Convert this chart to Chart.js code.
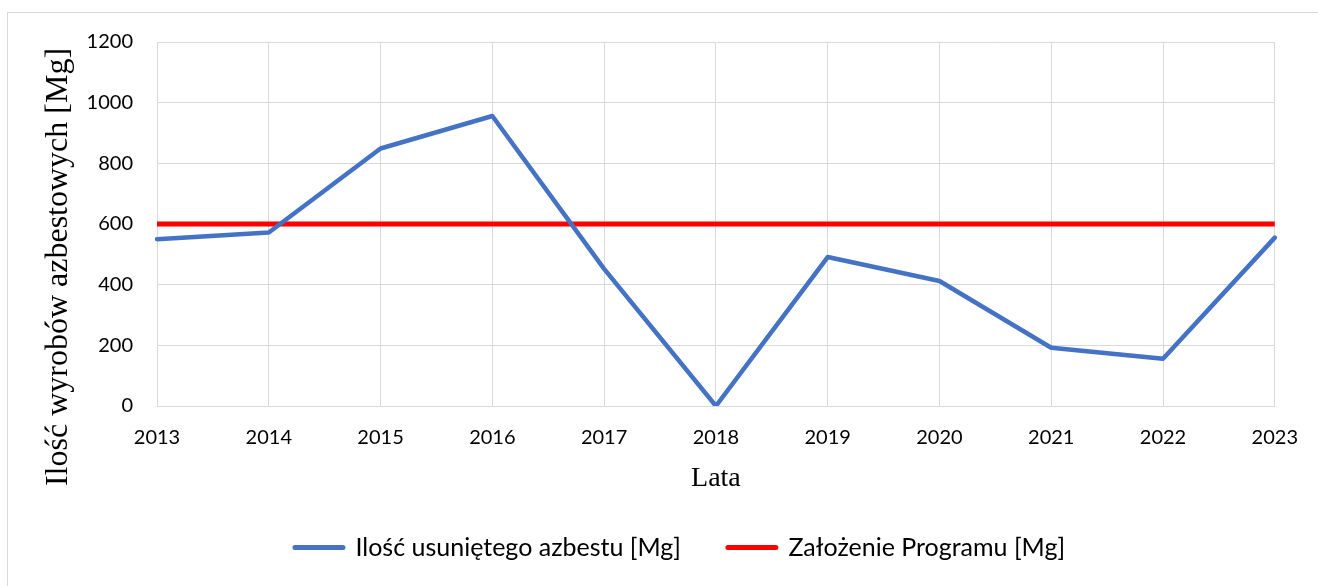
<!DOCTYPE html>
<html lang="pl">
<head>
<meta charset="utf-8">
<title>Ilość usuniętego azbestu</title>
<script src="https://cdn.jsdelivr.net/npm/chart.js@4"></script>
<style>
    html, body { margin: 0; padding: 0; background: #ffffff; }
    #wrap { position: relative; width: 1318px; height: 586px; }
</style>
</head>
<body>
<div id="wrap"><canvas id="azbestChart" width="1318" height="586"></canvas></div>
<script>
// Dane
const lata = ['2013', '2014', '2015', '2016', '2017', '2018', '2019', '2020', '2021', '2022', '2023'];
const usunietyAzbest = [550, 572, 849, 956, 452, 0, 491, 412, 192, 156, 555];
const zalozenieProgramu = [600, 600, 600, 600, 600, 600, 600, 600, 600, 600, 600];

const tytulY = 'Ilość wyrobów azbestowych [Mg]';
const tytulX = 'Lata';

const fontOs = "Lato, 'Open Sans', sans-serif";
const fontSzeryf = "'Liberation Serif', 'DejaVu Serif', serif";

// Ramka wokół całego wykresu (jak w Excelu)
const ramka = {
    id: 'ramka',
    beforeDraw(chart) {
        const ctx = chart.ctx;
        ctx.save();
        ctx.strokeStyle = '#d9d9d9';
        ctx.lineWidth = 1;
        ctx.strokeRect(7.5, 12.5, 1340, 600);
        ctx.restore();
    }
};

// Tytuł osi Y rysowany ręcznie, żeby ustawić go tak jak w oryginale
const tytulOsiY = {
    id: 'tytulOsiY',
    afterDraw(chart) {
        const ctx = chart.ctx;
        ctx.save();
        ctx.translate(59, 267);
        ctx.rotate(-Math.PI / 2);
        ctx.font = '32px ' + fontSzeryf;
        ctx.fillStyle = '#000000';
        ctx.textAlign = 'center';
        ctx.textBaseline = 'middle';
        ctx.fillText(tytulY, 0, 0);
        ctx.restore();
    }
};

const ctx = document.getElementById('azbestChart').getContext('2d');

new Chart(ctx, {
    type: 'line',
    data: {
        labels: lata,
        datasets: [{
            label: 'Ilość usuniętego azbestu [Mg]',
            data: usunietyAzbest,
            borderColor: '#4472C4',
            backgroundColor: '#4472C4',
            borderWidth: 4.5,
            borderCapStyle: 'round',
            borderJoinStyle: 'round',
            pointRadius: 0,
            pointHoverRadius: 0,
            tension: 0,
            fill: false
        }, {
            label: 'Założenie Programu [Mg]',
            data: zalozenieProgramu,
            borderColor: '#FF0000',
            backgroundColor: '#FF0000',
            borderWidth: 5,
            borderCapStyle: 'butt',
            pointRadius: 0,
            pointHoverRadius: 0,
            tension: 0,
            fill: false
        }]
    },
    options: {
        responsive: false,
        animation: false,
        layout: {
            padding: { top: 42, right: 42, bottom: 16, left: 84 }
        },
        plugins: {
            legend: {
                position: 'bottom',
                labels: {
                    usePointStyle: true,
                    pointStyle: 'line',
                    pointStyleWidth: 48,
                    padding: 47,
                    color: '#000000',
                    font: { family: fontOs, size: 25 },
                    generateLabels(chart) {
                        return chart.data.datasets.map((ds, i) => ({
                            text: ds.label,
                            fillStyle: ds.borderColor,
                            strokeStyle: ds.borderColor,
                            lineWidth: 5,
                            lineCap: 'round',
                            pointStyle: 'line',
                            hidden: false,
                            datasetIndex: i,
                            fontColor: '#000000'
                        }));
                    }
                }
            },
            tooltip: { enabled: false }
        },
        scales: {
            x: {
                offset: false,
                afterFit(scale) { scale.height = 82; },
                grid: { color: '#d9d9d9', lineWidth: 1, drawTicks: false, offset: false },
                border: { color: '#d9d9d9' },
                ticks: {
                    color: '#000000',
                    padding: 20,
                    maxRotation: 0,
                    font: { family: fontOs, size: 20 }
                },
                title: {
                    display: true,
                    text: tytulX,
                    color: '#000000',
                    font: { family: fontSzeryf, size: 28 },
                    padding: { top: 0, bottom: -7 }
                }
            },
            y: {
                min: 0,
                max: 1200,
                afterFit(scale) { scale.width = 73; },
                grid: { color: '#d9d9d9', lineWidth: 1, drawTicks: false },
                border: { color: '#d9d9d9' },
                ticks: {
                    stepSize: 200,
                    color: '#000000',
                    padding: 24,
                    font: { family: fontOs, size: 20 },
                    callback: function(value) {
                        return String(value);
                    }
                }
            }
        }
    },
    plugins: [ramka, tytulOsiY]
});
</script>
</body>
</html>
